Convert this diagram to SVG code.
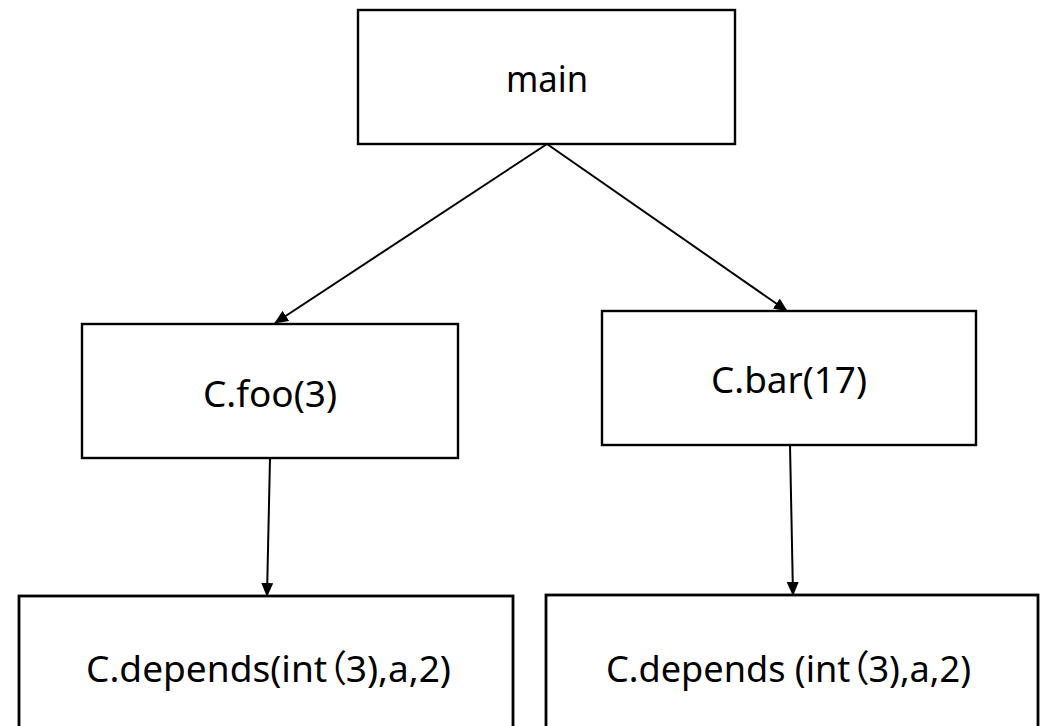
<svg xmlns="http://www.w3.org/2000/svg" width="1041" height="726" viewBox="0 0 1041 726">
  <style>
    .box { fill: #ffffff; stroke: #000000; stroke-width: 2.4; }
    .box-low { fill: #ffffff; stroke: #000000; stroke-width: 2.8; }
    .label { font-family: "Noto Sans", "Noto Sans CJK SC", sans-serif; font-size: 37px; fill: #000000; }
    .cjk { font-family: "Noto Sans CJK SC", sans-serif; font-feature-settings: "palt"; }
    .edge { fill: none; stroke: #000000; stroke-width: 2; marker-end: url(#arrow); }
  </style>
  <defs>
    <marker id="arrow" markerUnits="userSpaceOnUse" markerWidth="14" markerHeight="12" viewBox="0 0 14 12" refX="13" refY="6" orient="auto">
      <path d="M0,0 L14,6 L0,12 Z" fill="#000000"/>
    </marker>
  </defs>
  <rect width="1041" height="726" fill="#ffffff"/>

  <g id="connectors">
    <line class="edge" x1="547" y1="144" x2="275" y2="323"/>
    <line class="edge" x1="547" y1="144" x2="787" y2="311"/>
    <line class="edge" x1="270" y1="458" x2="267" y2="596"/>
    <line class="edge" x1="790" y1="445" x2="793" y2="595"/>
  </g>

  <g id="node-main">
    <rect class="box" x="358" y="10" width="377" height="134"/>
    <text class="label" x="506" y="92" textLength="82" lengthAdjust="spacingAndGlyphs">main</text>
  </g>

  <g id="node-foo">
    <rect class="box" x="82" y="324" width="376" height="134"/>
    <text class="label" x="203" y="407" textLength="134" lengthAdjust="spacingAndGlyphs">C.foo(3)</text>
  </g>

  <g id="node-bar">
    <rect class="box" x="602" y="311" width="374" height="134"/>
    <text class="label" x="711" y="393" textLength="156" lengthAdjust="spacingAndGlyphs">C.bar(17)</text>
  </g>

  <g id="node-depends-left">
    <rect class="box-low" x="19" y="596" width="494" height="140"/>
    <text class="label" x="86" y="682" textLength="365" lengthAdjust="spacingAndGlyphs">C.depends(int<tspan class="cjk">（</tspan>3),a,2)</text>
  </g>

  <g id="node-depends-right">
    <rect class="box-low" x="546" y="595" width="492" height="140"/>
    <text class="label" x="606" y="682" textLength="365" lengthAdjust="spacingAndGlyphs">C.depends (int<tspan class="cjk">（</tspan>3),a,2)</text>
  </g>
</svg>
